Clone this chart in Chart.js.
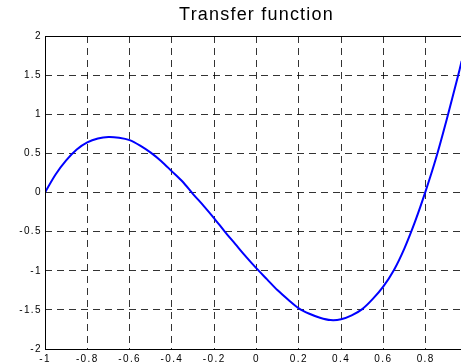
<!DOCTYPE html>
<html>
<head>
<meta charset="utf-8">
<script src="https://cdn.jsdelivr.net/npm/chart.js@4/dist/chart.umd.min.js"></script>
<style>
  html, body { margin: 0; padding: 0; background: #fff; overflow: hidden; }
  #wrap { width: 461px; height: 364px; overflow: hidden; }
  canvas { display: block; }
</style>
</head>
<body>
<div id="wrap"><canvas id="c" width="500" height="364"></canvas></div>
<script>
const titleText = 'Transfer function';

// Axis ticks
const xTicks = [-1, -0.8, -0.6, -0.4, -0.2, 0, 0.2, 0.4, 0.6, 0.8, 1];
const yTicks = [-2, -1.5, -1, -0.5, 0, 0.5, 1, 1.5, 2];

// Sampled transfer curve
const xs = [-1, -0.95, -0.9, -0.85, -0.8, -0.75, -0.7, -0.65, -0.6, -0.55,
            -0.5, -0.45, -0.4, -0.35, -0.3, -0.25, -0.2, -0.15, -0.1, -0.05,
            0, 0.05, 0.1, 0.15, 0.2, 0.25, 0.3, 0.35, 0.4, 0.45,
            0.5, 0.55, 0.6, 0.65, 0.7, 0.75, 0.8, 0.85, 0.9, 0.95, 0.97];
const ys = [0, 0.23, 0.41, 0.55, 0.64, 0.69, 0.71, 0.70, 0.67, 0.60,
            0.51, 0.40, 0.27, 0.14, -0.02, -0.17, -0.33, -0.50, -0.66, -0.82,
            -0.97, -1.11, -1.25, -1.37, -1.48, -1.55, -1.60, -1.63, -1.62, -1.57,
            -1.49, -1.36, -1.20, -0.99, -0.71, -0.37, 0.02, 0.45, 0.94, 1.46, 1.68];

const FONT = '"Liberation Sans", Arial, Helvetica, sans-serif';

// Solid box around the axes and the title centred over the plot
const framePlugin = {
  id: 'frame',
  beforeDraw(chart) {
    chart.ctx.letterSpacing = '1.4px';
  },
  afterDraw(chart) {
    const { ctx, chartArea: a } = chart;
    ctx.save();
    ctx.setLineDash([]);
    ctx.strokeStyle = '#000';
    ctx.lineWidth = 1;
    ctx.strokeRect(Math.round(a.left) + 0.5, Math.round(a.top) + 0.5,
                   Math.round(a.right - a.left), Math.round(a.bottom - a.top));
    ctx.font = '18px ' + FONT;
    ctx.letterSpacing = '1.2px';
    ctx.fillStyle = '#000';
    ctx.textAlign = 'center';
    ctx.textBaseline = 'alphabetic';
    ctx.fillText(titleText, (a.left + a.right) / 2, 20);
    ctx.restore();
  }
};

const gridOpts = { color: 'rgba(0,0,0,0.8)', lineWidth: 1, drawTicks: false };
const borderOpts = { display: false, dash: [7, 5] };
const tickFont = { family: FONT, size: 10 };

new Chart(document.getElementById('c'), {
  type: 'line',
  data: {
    datasets: [{
      data: xs.map((x, i) => ({ x: x, y: ys[i] })),
      borderColor: '#0000ff',
      borderWidth: 2,
      pointRadius: 0,
      fill: false,
      tension: 0.3
    }]
  },
  options: {
    responsive: false,
    animation: false,
    events: [],
    layout: { padding: { top: 36, right: 32, left: 0, bottom: 0 } },
    plugins: { legend: { display: false }, title: { display: false }, tooltip: { enabled: false } },
    scales: {
      x: {
        type: 'linear',
        min: -1, max: 1,
        grid: gridOpts,
        border: borderOpts,
        afterBuildTicks: s => { s.ticks = xTicks.map(v => ({ value: v })); },
        afterFit: s => { s.height = 15; },
        ticks: {
          color: '#000', font: tickFont, padding: 4, maxRotation: 0,
          autoSkip: false, callback: v => String(v)
        }
      },
      y: {
        type: 'linear',
        min: -2, max: 2,
        grid: gridOpts,
        border: borderOpts,
        afterBuildTicks: s => { s.ticks = yTicks.map(v => ({ value: v })); },
        afterFit: s => { s.width = 45; },
        ticks: {
          color: '#000', font: tickFont, padding: 3,
          autoSkip: false, callback: v => String(v)
        }
      }
    }
  },
  plugins: [framePlugin]
});
</script>
</body>
</html>
